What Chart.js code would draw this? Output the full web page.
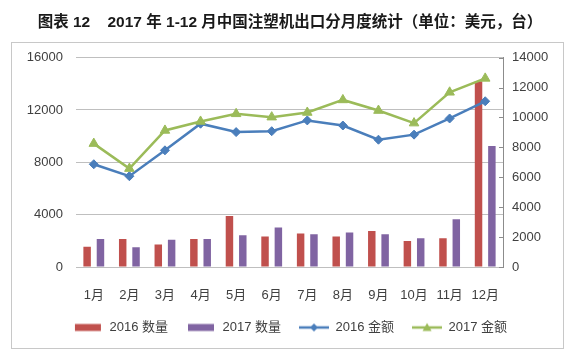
<!DOCTYPE html>
<html><head><meta charset="utf-8">
<script src="https://cdn.jsdelivr.net/npm/chart.js@4"></script>
<style>html,body{margin:0;padding:0;background:#fff}#wrap{width:580px;height:356px}</style>
</head><body><div id="wrap"><canvas id="c" width="580" height="356"></canvas></div>
<script>
const titleText = '图表 12    2017 年 1-12 月中国注塑机出口分月度统计（单位：美元，台）';
const months = ['1月','2月','3月','4月','5月','6月','7月','8月','9月','10月','11月','12月'];
const seriesNames = ['2016 数量','2017 数量','2016 金额','2017 金额'];
const qty2016 = [1550,2130,1720,2130,3900,2330,2560,2330,2760,1980,2200,14200];
const qty2017 = [2130,1500,2080,2130,2430,3010,2510,2630,2510,2200,3650,9240];
const amt2016 = [6870,6070,7800,9580,9020,9080,9800,9460,8510,8850,9930,11080];
const amt2017 = [8250,6580,9130,9730,10240,10020,10330,11170,10460,9620,11680,12610];
const leftMax = 16000, leftStep = 4000;
const rightMax = 14000, rightStep = 2000;

const RED='#C0504D', PURPLE='#8064A2', BLUE='#4A7EBB', GREEN='#9BBB59';
const FONT = '"Liberation Sans", "Noto Sans CJK SC", sans-serif';

function barIcon(color){
  const c=document.createElement('canvas'); c.width=30; c.height=12;
  const x=c.getContext('2d'); x.fillStyle=color; x.fillRect(2,2.5,26,7); return c;
}
function lineIcon(color, shape){
  const c=document.createElement('canvas'); c.width=30; c.height=14;
  const x=c.getContext('2d'); x.strokeStyle=color; x.lineWidth=2.5;
  x.beginPath(); x.moveTo(0,7); x.lineTo(30,7); x.stroke();
  x.fillStyle=color; x.beginPath();
  if(shape==='d'){ x.moveTo(15,3); x.lineTo(19,7); x.lineTo(15,11); x.lineTo(11,7); }
  else { x.moveTo(15,2.5); x.lineTo(19.5,10.5); x.lineTo(10.5,10.5); }
  x.closePath(); x.fill(); return c;
}
const icons=[barIcon(RED),barIcon(PURPLE),lineIcon(BLUE,'d'),lineIcon(GREEN,'t')];

const framePlugin = {
  id:'frame',
  beforeDraw(chart){
    const ctx=chart.ctx; ctx.save();
    ctx.fillStyle='#fff'; ctx.fillRect(0,0,chart.width,chart.height);
    ctx.strokeStyle='#c8c8c8'; ctx.lineWidth=1;
    ctx.strokeRect(11.5,42.5,552,306);
    ctx.restore();
  },
  afterDraw(chart){
    const s=chart.scales.y1, ctx=chart.ctx; ctx.save();
    ctx.strokeStyle='#8c8c8c'; ctx.lineWidth=1;
    s.ticks.forEach(t=>{const y=Math.round(s.getPixelForValue(t.value))+0.5;
      ctx.beginPath(); ctx.moveTo(s.left-4,y); ctx.lineTo(s.left,y); ctx.stroke();});
    ctx.restore();
  }
};

const plain = v => String(v);

new Chart(document.getElementById('c'), {
  data:{
    labels: months,
    datasets:[
      {type:'bar', label:seriesNames[0], data:qty2016, backgroundColor:RED, yAxisID:'y', order:2, categoryPercentage:0.75, barPercentage:0.56},
      {type:'bar', label:seriesNames[1], data:qty2017, backgroundColor:PURPLE, yAxisID:'y', order:2, categoryPercentage:0.75, barPercentage:0.56},
      {type:'line', label:seriesNames[2], data:amt2016, borderColor:BLUE, backgroundColor:BLUE, borderWidth:2.5, pointStyle:'rectRot', pointRadius:4.5, pointBorderWidth:1, yAxisID:'y1', order:1, tension:0},
      {type:'line', label:seriesNames[3], data:amt2017, borderColor:GREEN, backgroundColor:GREEN, borderWidth:2.5, pointStyle:'triangle', pointRadius:5.5, pointBorderWidth:1, yAxisID:'y1', order:0, tension:0}
    ]
  },
  options:{
    responsive:false, devicePixelRatio:1, animation:false,
    layout:{padding:{left:12,right:12,top:0,bottom:12}},
    scales:{
      x:{grid:{display:false, drawTicks:false}, border:{display:false},
         ticks:{padding:21, color:'#404040', font:{family:FONT,size:13}},
         afterFit(s){s.height=36;}},
      y:{position:'left', min:0, max:leftMax,
         ticks:{stepSize:leftStep, padding:13, color:'#404040', font:{family:FONT,size:13}, callback:plain},
         grid:{color:'#bfbfbf', drawTicks:false}, border:{display:false},
         afterFit(s){s.width=64;}},
      y1:{position:'right', min:0, max:rightMax,
         ticks:{stepSize:rightStep, padding:9, color:'#404040', font:{family:FONT,size:13}, callback:plain},
         grid:{drawOnChartArea:false, drawTicks:false}, border:{display:true,color:'#8c8c8c'},
         afterFit(s){s.width=65;}}
    },
    plugins:{
      title:{display:true, text:titleText, color:'#1a1a1a', font:{family:FONT,size:15.5,weight:'bold'}, padding:{top:13,bottom:26}},
      legend:{position:'bottom',
        labels:{usePointStyle:true, pointStyleWidth:30, padding:18, color:'#404040', font:{family:FONT,size:13},
          generateLabels(chart){return chart.data.datasets.map((d,i)=>({text:d.label, pointStyle:icons[i], fillStyle:d.backgroundColor, strokeStyle:d.borderColor||d.backgroundColor, lineWidth:0, hidden:false, datasetIndex:i, fontColor:'#404040'}));}}
      },
      tooltip:{enabled:false}
    }
  },
  plugins:[framePlugin]
});
</script></body></html>
